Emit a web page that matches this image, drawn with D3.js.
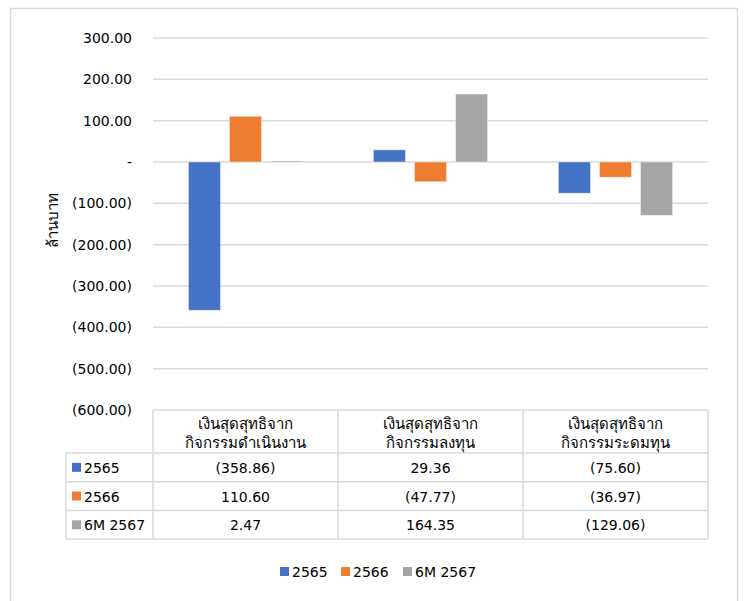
<!DOCTYPE html>
<meta charset="utf-8">
<script src="https://cdn.jsdelivr.net/npm/d3@7"></script>
<style>
  body { margin: 0; background: #fff; }
  text { font-family: Tahoma, "DejaVu Sans", "Noto Sans", sans-serif; fill: #000; }
</style>
<body>
<script>

var width = 747
var height = 601

// data
var categories = [["เงินสุดสุทธิจาก", "กิจกรรมดำเนินงาน"],
                  ["เงินสุดสุทธิจาก", "กิจกรรมลงทุน"],
                  ["เงินสุดสุทธิจาก", "กิจกรรมระดมทุน"]]
var seriesNames = ["2565", "2566", "6M 2567"]
var values2565 = [-358.86, 29.36, -75.60]
var values2566 = [110.60, -47.77, -36.97]
var values2567 = [2.47, 164.35, -129.06]
var yTicks = [300, 200, 100, 0, -100, -200, -300, -400, -500, -600]
var colors = ["#4472C4", "#ED7D31", "#A5A5A5"]
var yTitle = "ล้านบาท"

var series = [values2565, values2566, values2567]

function fmt(v) {
  if (v === 0) return "-"
  if (v < 0) return "(" + Math.abs(v).toFixed(2) + ")"
  return v.toFixed(2)
}

var svg = d3.select("body").append("svg")
            .attr("width", width)
            .attr("height", height)

// outer frame
svg.append("path")
   .attr("d", "M 10.5,650 L 10.5,8.5 L 737.5,8.5 L 737.5,650")
   .style("fill", "none")
   .style("stroke", "#d9d9d9")
   .style("stroke-width", 1.5)

var left = 153, right = 708

var y = d3.scaleLinear().domain([-600, 300]).range([410, 38])
var x0 = d3.scaleBand().domain(d3.range(categories.length)).range([left, right])
var groupW = x0.bandwidth() * 0.617
var x1 = d3.scaleBand().domain(d3.range(seriesNames.length)).range([0, groupW]).paddingInner(0.22)
var groupOff = (x0.bandwidth() - groupW) / 2

// gridlines
svg.append("g").selectAll("line")
   .data(yTicks.filter(d => d !== -600))
   .join("line")
   .attr("x1", left).attr("x2", right)
   .attr("y1", d => y(d)).attr("y2", d => y(d))
   .style("stroke", "#d9d9d9")
   .style("stroke-width", 1.5)

// y axis labels
svg.append("g").selectAll("text")
   .data(yTicks)
   .join("text")
   .attr("x", 132)
   .attr("y", d => y(d) + 5)
   .style("text-anchor", "end")
   .style("font-size", "14px")
   .text(fmt)

svg.append("text")
   .attr("transform", "translate(58,220) rotate(-90)")
   .style("text-anchor", "middle")
   .style("font-size", "15px")
   .text(yTitle)

// bars
series.forEach(function(vals, si) {
  svg.append("g").selectAll("rect")
     .data(vals)
     .join("rect")
     .attr("x", (d, i) => x0(i) + groupOff + x1(si))
     .attr("width", x1.bandwidth())
     .attr("y", d => y(Math.max(0, d)))
     .attr("height", d => Math.abs(y(d) - y(0)))
     .style("fill", colors[si])
     .style("stroke", "#fff")
     .style("stroke-opacity", 0.4)
     .style("stroke-width", 1)
})

// data table
var tableTop = 410, headerBottom = 453, rowH = 28.7
var legLeft = 66
var tbl = svg.append("g")
var gridStroke = "#d9d9d9"

// horizontal lines
tbl.append("line").attr("x1", left).attr("x2", right).attr("y1", tableTop).attr("y2", tableTop)
   .style("stroke", gridStroke).style("stroke-width", 1.5)
d3.range(seriesNames.length + 1).forEach(function(r) {
  var yy = headerBottom + r * rowH
  tbl.append("line").attr("x1", legLeft).attr("x2", right).attr("y1", yy).attr("y2", yy)
     .style("stroke", gridStroke).style("stroke-width", 1.5)
})
// vertical lines
tbl.append("line").attr("x1", legLeft).attr("x2", legLeft)
   .attr("y1", headerBottom).attr("y2", headerBottom + rowH * seriesNames.length)
   .style("stroke", gridStroke).style("stroke-width", 1.5)
d3.range(categories.length + 1).forEach(function(c) {
  var xx = left + c * x0.bandwidth()
  tbl.append("line").attr("x1", xx).attr("x2", xx)
     .attr("y1", tableTop).attr("y2", headerBottom + rowH * seriesNames.length)
     .style("stroke", gridStroke).style("stroke-width", 1.5)
})

// headers
categories.forEach(function(lines, c) {
  lines.forEach(function(t, li) {
    tbl.append("text")
       .attr("x", x0(c) + x0.bandwidth() / 2)
       .attr("y", 429 + li * 19)
       .style("text-anchor", "middle")
       .style("font-size", "15px")
       .text(t)
  })
})

// rows
seriesNames.forEach(function(name, si) {
  var cy = headerBottom + si * rowH + rowH / 2
  tbl.append("rect").attr("x", 72).attr("y", cy - 4.5).attr("width", 9).attr("height", 9)
     .style("fill", colors[si])
  tbl.append("text").attr("x", 84).attr("y", cy + 5.5)
     .style("font-size", "14px").text(name)
  series[si].forEach(function(v, c) {
    tbl.append("text")
       .attr("x", x0(c) + x0.bandwidth() / 2)
       .attr("y", cy + 5.5)
       .style("text-anchor", "middle")
       .style("font-size", "14px")
       .text(fmt(v))
  })
})

// legend
var legX = [280, 341, 403]
var legend = svg.append("g")
seriesNames.forEach(function(name, si) {
  legend.append("rect").attr("x", legX[si]).attr("y", 567).attr("width", 9).attr("height", 9)
        .style("fill", colors[si])
  legend.append("text").attr("x", legX[si] + 12).attr("y", 577)
        .style("font-size", "14px").text(name)
})

</script>
</body>
